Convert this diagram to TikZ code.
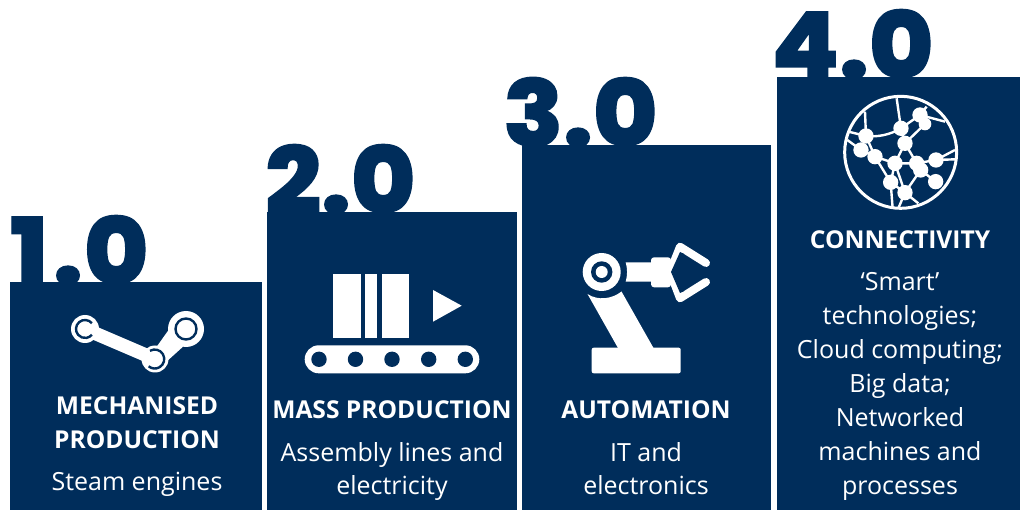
\documentclass[tikz,border=0pt]{standalone}
\usepackage{fontspec}
\setmainfont{Open Sans}
\newfontfamily\numfont[FakeBold=1.5, FakeStretch=1.07]{Poppins ExtraBold}
\definecolor{navy}{HTML}{002D5B}
\tikzset{
    headtext/.style={white, anchor=base, inner sep=0pt, font=\bfseries\fontsize{24.6}{25}\selectfont},
    bodytext/.style={white, anchor=base, inner sep=0pt, font=\fontsize{25}{25}\selectfont},
    numtext/.style={navy, anchor=base west, inner sep=0pt, font=\numfont\fontsize{92}{92}\selectfont}
}
\begin{document}
\begin{tikzpicture}[x=1pt, y=-1pt]
    \useasboundingbox (0,0) rectangle (1020,510);
    % Numbers
    \node[numtext] (numA) at (10,284) {1\kern5pt.\kern1pt0};
    \node[numtext] (numB) at (265,213) {2.0};
    \node[numtext] (numC) at (503,146) {3.0};
    \node[numtext] (numD) at (771,78) {4.0};
    % Boxes
    \fill[navy] (10,282) rectangle (262,510);
    \fill[navy] (267,212) rectangle (517,510);
    \fill[navy] (522,145) rectangle (771,510);
    \fill[navy] (777,77) rectangle (1020,510);
    % Steam engine
    \draw[white, line width=13.5pt] (85,329) -- (155,359);
    \fill[white] (186,329) circle (18) (155,359) circle (13.5) (85,329) circle (14);
    \fill[white] (156.7,346.7) -- (170,328) -- (183,346.7) -- (168.3,360) -- cycle;
    \draw[navy, line width=2.4pt] (186,329) circle (10.5);
    \draw[navy, line width=2.4pt] (91.9,323.2) arc (-40:-320:9);
    \draw[navy, line width=2.4pt] (150,350.8) arc (-120:130:9.5);
    % Conveyor
    \fill[white] (333.3,274) rectangle (360.7,337.7);
    \fill[white] (364.7,274) rectangle (377.3,337.7);
    \fill[white] (381.7,274) rectangle (408.7,337.7);
    \fill[white] (433,290) -- (433,321.7) -- (461.7,305.7) -- cycle;
    \fill[white, rounded corners=14pt] (304.7,345.3) rectangle (479.3,373.3);
    \foreach \x in {319,355.5,392,428.7,465.3}
        \fill[navy] (\x,359.3) circle (7.7);
    % Robot arm
    \fill[white, rounded corners=2pt] (591.7,347.7) rectangle (680.7,373.3);
    \fill[white] (587.5,294) .. controls (598,301) and (612,299) .. (621.5,291.5) -- (653.5,348) -- (618,348) -- cycle;
    \fill[white] (601.7,272) circle (19);
    \fill[navy] (601.7,272) circle (10.7);
    \fill[white] (601.7,272) circle (6);
    \fill[white] (625.7,262.3) -- (652,262.3) -- (652,281.7) -- (625.7,281.7) .. controls (627.5,275) and (627.5,269) .. (625.7,262.3) -- cycle;
    \fill[white, rounded corners=3pt] (651,257.3) rectangle (671,287.3);
    \draw[white, line width=8pt, line cap=round, line join=round] (670,272) -- (680,246.7) -- (706,263);
    \draw[white, line width=8pt, line cap=round, line join=round] (670,272) -- (680,298.3) -- (706,282);
    \fill[navy] (671,272) -- (680,252) -- (684,254) -- (684,291) -- (680,293) -- cycle;
    % Network
    \begin{scope}[shift={(770,0)}, scale=0.3333]
        \draw[white, line width=3pt] (392,457) circle (168);
        \clip (392,457) circle (168);
        \draw[white, line width=2.4pt]
            (288,408) -- (285,335) (393,385) -- (380,295) (288,408) .. controls (320,412) and (360,405) .. (393,385)
            (288,408) -- (235,395) (273,450) -- (232,420) (288,408) -- (315,470)
            (450,345) -- (525,365) (450,345) -- (470,320) (393,385) -- (450,345) (465,372) -- (405,430)
            (393,385) -- (405,430) (405,430) -- (375,490) (405,430) -- (440,490)
            (315,470) -- (375,490) (315,470) -- (362,547) (375,490) -- (440,490) (375,490) -- (362,547)
            (375,490) -- (405,578) (452,510) -- (405,578) (452,510) -- (497,545)
            (440,490) -- (498,480) (498,480) -- (555,450) (498,480) -- (555,478)
            (362,547) -- (405,578) (362,547) -- (368,625) (405,578) -- (385,625) (405,578) -- (445,610)
            (273,450) -- (315,470);
        \foreach \x/\y/\r in {288/408/23,273/450/23,315/470/23,393/385/23,450/345/23,465/372/19,405/430/23,375/490/23,440/490/23,452/510/23,362/547/23,405/578/23,497/545/23,498/480/23}
            \fill[white] (\x,\y) circle (\r);
    \end{scope}
    % Box 1 text
    \node[headtext] (headA) at (137,414) {MECHANISED};
    \node[headtext] (headAb) at (137,448) {PRODUCTION};
    \node[bodytext] (bodyA) at (137,490) {Steam engines};
    % Box 2 text
    \node[headtext] (headB) at (392,418) {MASS PRODUCTION};
    \node[bodytext] (bodyB) at (392,461) {Assembly lines and};
    \node[bodytext] (bodyBb) at (392,494) {electricity};
    % Box 3 text
    \node[headtext] (headC) at (646,418) {AUTOMATION};
    \node[bodytext] (bodyC) at (646,461) {IT and};
    \node[bodytext] (bodyCb) at (646,494) {electronics};
    % Box 4 text
    \node[headtext] (headD) at (900,249) {CONNECTIVITY};
    \node[bodytext] (bodyD) at (900,291) {‘Smart’};
    \node[bodytext] (bodyDb) at (900,325) {technologies;};
    \node[bodytext] (bodyDc) at (900,359) {Cloud computing;};
    \node[bodytext] (bodyDd) at (900,392) {Big data;};
    \node[bodytext] (bodyDe) at (900,426) {Networked};
    \node[bodytext] (bodyDf) at (900,460) {machines and};
    \node[bodytext] (bodyDg) at (900,494) {processes};
\end{tikzpicture}
\end{document}
